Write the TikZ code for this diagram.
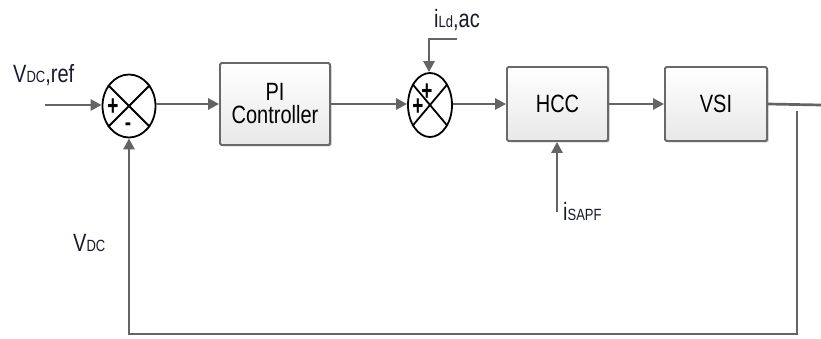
\documentclass[tikz,border=0pt]{standalone}
\usepackage{fontspec}
\setmainfont{Liberation Sans}
\usetikzlibrary{arrows.meta,shapes.geometric,shadows}
\definecolor{linegray}{RGB}{100,100,100}
\definecolor{boxborder}{RGB}{105,105,105}
\definecolor{lblcol}{RGB}{25,25,45}
\newcommand{\tall}[1]{\scalebox{1}[1.25]{#1}}
\newcommand{\vtall}[1]{\scalebox{1}[1.5]{#1}}
\newcommand{\fsbig}{\fontsize{20}{22}\selectfont}
\newcommand{\fssmall}{\fontsize{13}{14}\selectfont}
\tikzset{
  blockbox/.style={draw=boxborder, line width=1.8pt, rounded corners=1.5pt,
    top color=white, bottom color=black!9,
    drop shadow={shadow xshift=1.5pt, shadow yshift=-1.5pt, opacity=0.25, fill=black},
    align=center, inner sep=0pt, font=\fsbig},
  sumnode/.style={draw=black, line width=1.8pt, ellipse, inner sep=0pt, fill=white},
  sig/.style={draw=linegray, line width=2.7pt, -{Triangle[length=11pt,width=11pt]}},
  wire/.style={draw=linegray, line width=2.7pt},
  lbl/.style={inner sep=0pt, text=lblcol, anchor=base west},
  signtxt/.style={inner sep=0pt, font=\fontsize{19}{19}\selectfont\bfseries}
}
\begin{document}
\begin{tikzpicture}[x=1pt,y=-1pt]
\useasboundingbox (0,0) rectangle (821,339);
% nodes
\node[sumnode, minimum width=53pt, minimum height=63pt] (s1) at (129,106) {};
\node[blockbox, minimum width=110pt, minimum height=82pt] (pi) at (275,104) {\tall{PI}\\[1pt]\tall{Controller}};
\node[sumnode, minimum width=44pt, minimum height=64pt] (s2) at (430,105) {};
\node[blockbox, minimum width=101pt, minimum height=74pt] (hcc) at (557.5,104) {\tall{HCC}};
\node[blockbox, minimum width=102pt, minimum height=74pt] (vsi) at (716,104) {\tall{VSI}};
% crosses
\draw[black, line width=1.8pt] (s1.45) -- (s1.225) (s1.135) -- (s1.315);
\draw[black, line width=1.8pt] (s2.50) -- (s2.230) (s2.130) -- (s2.310);
% signs
\node[signtxt] (p1) at (113,107) {\vtall{+}};
\node[signtxt] (m1) at (128,127) {\tall{-}};
\node[signtxt] (p2a) at (427,92) {\vtall{+}};
\node[signtxt] (p2b) at (418,107) {\vtall{+}};
% coordinates
\coordinate (in) at (45,105);
\coordinate (iLdS) at (457,39);
\coordinate (iLdC) at (429,39);
\coordinate (isS) at (557,212);
\coordinate (out) at (821,105);
\coordinate (fbA) at (797,111);
\coordinate (fbB) at (797,334);
\coordinate (fbC) at (129,334);
% labels
\node[lbl] (vref) at (13,83) {\tall{\fsbig V{\fssmall DC},ref}};
\node[lbl] (ild) at (434,28) {\tall{\fsbig i{\fssmall Ld},ac}};
\node[lbl] (vdc) at (73,251) {\tall{\fsbig V{\fssmall DC}}};
\node[lbl] (isapf) at (563,220) {\tall{\fsbig i{\fssmall SAPF}}};
% connectors
\draw[sig] (in) -- (s1.west |- in);
\draw[sig] (s1.east |- pi.west) -- (pi.west);
\draw[sig] (pi.east) -- (s2.west |- pi.east);
\draw[sig] (s2.east |- hcc.west) -- (hcc.west);
\draw[sig] (hcc.east) -- (vsi.west);
\draw[wire] (vsi.east) -- (out);
\draw[sig] (iLdS) -- (iLdC) -- (s2.north -| iLdC);
\draw[sig] (isS) -- (hcc.south -| isS);
\draw[sig] (fbA) -- (fbB) -- (fbC) -- (s1.south);
\end{tikzpicture}
\end{document}
